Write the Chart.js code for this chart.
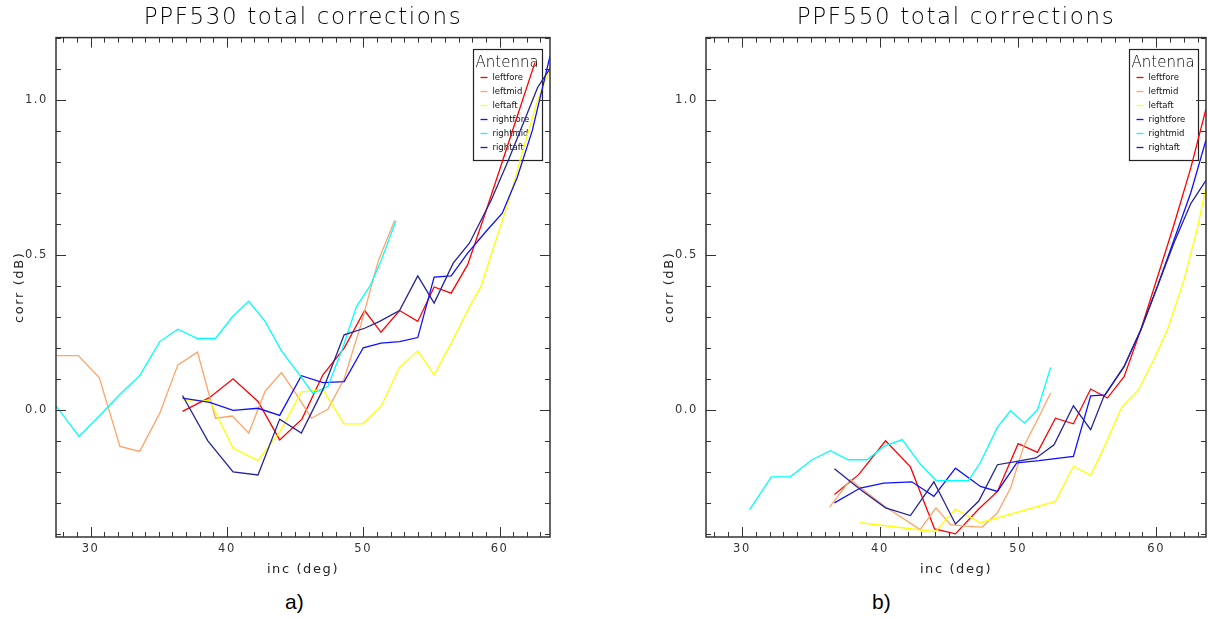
<!DOCTYPE html>
<html>
<head>
<meta charset="utf-8">
<script src="https://cdn.jsdelivr.net/npm/chart.js@4"></script>
<style>
  body { margin: 0; background: #fff; }
  #wrap { position: relative; width: 1208px; height: 621px; overflow: hidden; }
  canvas { position: absolute; top: 0; }
  #c530 { left: 0; }
  #c550 { left: 650px; }
  .tag { position: absolute; top: 590px; font: 21px "Liberation Sans", Arial, sans-serif; color: #000; }
</style>
</head>
<body>
<div id="wrap">
  <canvas id="c530" width="600" height="577"></canvas>
  <canvas id="c550" width="558" height="577"></canvas>
  <div class="tag" style="left:285px">a)</div>
  <div class="tag" style="left:872px">b)</div>
</div>
<script>
// antennas, in legend order
const antennas = ['leftfore', 'leftmid', 'leftaft', 'rightfore', 'rightmid', 'rightaft'];
const colours = ['#ff0000', '#ffa466', '#ffff00', '#1010ff', '#00ffff', '#24249a'];

const incTicks = [30, 40, 50, 60];
const corrTicks = [0, 0.5, 1.0];

// PPF530
const inc530LeftFore  = [36.74, 38.74, 40.45, 42.28, 43.87, 45.5, 47.04, 48.6, 50.1, 51.3, 52.66, 54.0, 55.2, 56.45, 57.66, 59.0, 60.2, 61.4, 62.6];
const corr530LeftFore = [-0.005, 0.04, 0.10, 0.027, -0.097, -0.03, 0.113, 0.199, 0.32, 0.25, 0.32, 0.285, 0.396, 0.376, 0.468, 0.64, 0.80, 0.96, 1.12];
const inc530LeftMid   = [27.46, 29.1, 30.63, 32.15, 33.6, 35.07, 36.4, 37.84, 39.16, 40.4, 41.6, 42.8, 44.0, 45.1, 46.2, 47.4, 48.6, 49.8, 51.1, 52.3];
const corr530LeftMid  = [0.175, 0.175, 0.104, -0.118, -0.134, -0.011, 0.145, 0.186, -0.027, -0.02, -0.075, 0.06, 0.12, 0.05, -0.027, 0.002, 0.10, 0.27, 0.48, 0.61];
const inc530LeftAft   = [36.74, 38.74, 40.45, 42.28, 43.87, 45.46, 47.04, 48.58, 49.97, 51.3, 52.66, 54.0, 55.2, 56.45, 57.8, 58.64, 59.5, 60.7, 61.8, 62.8, 63.7];
const corr530LeftAft  = [0.032, 0.03, -0.124, -0.163, -0.072, 0.058, 0.065, -0.045, -0.045, 0.011, 0.137, 0.19, 0.113, 0.215, 0.333, 0.398, 0.516, 0.677, 0.85, 1.0, 1.1];
const inc530RightFore  = [36.74, 38.74, 40.45, 42.28, 43.87, 45.46, 47.04, 48.6, 50.0, 51.3, 52.66, 54.0, 55.2, 56.45, 57.66, 59.0, 60.2, 61.3, 62.4, 63.7];
const corr530RightFore = [0.038, 0.024, -0.002, 0.005, -0.018, 0.11, 0.088, 0.091, 0.20, 0.215, 0.22, 0.233, 0.428, 0.432, 0.505, 0.575, 0.634, 0.75, 0.90, 1.14];
const inc530RightMid   = [27.46, 29.15, 30.63, 32.15, 33.6, 35.07, 36.4, 37.84, 39.16, 40.4, 41.6, 42.8, 44.0, 45.2, 46.3, 47.4, 48.5, 49.5, 50.5, 51.3, 52.4];
const corr530RightMid  = [0.013, -0.086, -0.02, 0.05, 0.11, 0.22, 0.26, 0.23, 0.23, 0.30, 0.35, 0.285, 0.19, 0.12, 0.054, 0.075, 0.20, 0.333, 0.40, 0.48, 0.61];
const inc530RightAft   = [36.74, 38.6, 40.45, 42.28, 43.87, 45.46, 47.04, 48.6, 50.1, 51.2, 52.66, 54.0, 55.2, 56.6, 57.8, 59.4, 60.6, 61.8, 62.8, 63.7];
const corr530RightAft  = [0.046, -0.10, -0.20, -0.21, -0.03, -0.075, 0.065, 0.242, 0.263, 0.285, 0.32, 0.432, 0.344, 0.473, 0.538, 0.677, 0.80, 0.93, 1.04, 1.10];

// PPF550
const inc550LeftFore  = [36.7, 38.45, 40.4, 42.2, 43.95, 45.46, 47.15, 48.5, 50.0, 51.4, 52.7, 54.0, 55.25, 56.46, 57.67, 58.87, 60.1, 61.3, 62.5, 63.6];
const corr550LeftFore = [-0.273, -0.209, -0.10, -0.184, -0.384, -0.40, -0.32, -0.263, -0.109, -0.137, -0.027, -0.045, 0.067, 0.038, 0.107, 0.257, 0.43, 0.60, 0.78, 0.97];
const inc550LeftMid   = [36.35, 37.85, 40.3, 42.9, 44.05, 45.1, 46.2, 47.4, 48.5, 49.45, 50.4, 51.4, 52.35];
const corr550LeftMid  = [-0.314, -0.225, -0.31, -0.386, -0.316, -0.37, -0.375, -0.378, -0.332, -0.252, -0.118, -0.032, 0.054];
const inc550LeftAft   = [38.57, 44.0, 45.46, 47.27, 52.7, 54.0, 55.25, 56.3, 57.5, 58.7, 59.8, 60.8, 62.0, 63.0, 63.6];
const corr550LeftAft  = [-0.364, -0.393, -0.32, -0.364, -0.295, -0.182, -0.211, -0.113, 0.009, 0.064, 0.16, 0.257, 0.418, 0.59, 0.72];
const inc550RightFore  = [36.7, 38.57, 40.27, 42.3, 43.9, 45.46, 47.27, 48.5, 49.9, 51.5, 54.0, 55.25, 56.3, 57.67, 58.9, 60.1, 61.3, 62.5, 63.6];
const corr550RightFore = [-0.30, -0.252, -0.236, -0.232, -0.279, -0.188, -0.247, -0.263, -0.171, -0.164, -0.15, 0.045, 0.048, 0.139, 0.26, 0.40, 0.55, 0.70, 0.87];
const inc550RightMid   = [30.56, 32.13, 33.5, 35.08, 36.4, 37.7, 39.07, 40.27, 41.6, 42.9, 44.05, 45.1, 46.4, 47.27, 48.5, 49.45, 50.46, 51.4, 52.35];
const corr550RightMid  = [-0.322, -0.216, -0.216, -0.161, -0.132, -0.161, -0.161, -0.118, -0.096, -0.174, -0.228, -0.228, -0.228, -0.169, -0.056, -0.003, -0.043, 0.0, 0.137];
const inc550RightAft   = [36.7, 38.57, 40.4, 42.2, 43.9, 45.46, 47.15, 48.5, 49.9, 51.3, 52.6, 54.0, 55.25, 56.2, 57.67, 58.9, 60.1, 61.3, 62.5, 63.6];
const corr550RightAft  = [-0.19, -0.257, -0.316, -0.341, -0.232, -0.368, -0.294, -0.177, -0.166, -0.155, -0.113, 0.013, -0.064, 0.043, 0.14, 0.26, 0.40, 0.54, 0.665, 0.74];

const hershey = '"DejaVu Sans", sans-serif';

// the plot fonts are wide vector glyphs, so open the text up a little
const wideText = {
  id: 'wideText',
  beforeDraw(chart) { chart.ctx.letterSpacing = '1.6px'; },
  afterDraw(chart) { chart.ctx.letterSpacing = '0px'; }
};

// box with tick marks on all four sides, ticks pointing inward
const frame = {
  id: 'frame',
  afterDatasetsDraw(chart) {
    const { ctx, chartArea: a, scales: { x, y } } = chart;
    ctx.save();
    ctx.strokeStyle = '#333';
    ctx.lineWidth = 1.5;
    ctx.strokeRect(a.left, a.top, a.right - a.left, a.bottom - a.top);
    ctx.lineWidth = 1;
    ctx.beginPath();
    for (let v = Math.ceil(x.min); v <= x.max; v++) {
      const px = Math.round(x.getPixelForValue(v)) + 0.5;
      const len = v % 10 === 0 ? 10 : 5;
      ctx.moveTo(px, a.bottom); ctx.lineTo(px, a.bottom - len);
      ctx.moveTo(px, a.top); ctx.lineTo(px, a.top + len);
    }
    for (let i = Math.ceil(y.min * 10); i <= Math.floor(y.max * 10); i++) {
      const py = Math.round(y.getPixelForValue(i / 10)) + 0.5;
      const len = i % 5 === 0 ? 10 : 5;
      ctx.moveTo(a.left, py); ctx.lineTo(a.left + len, py);
      ctx.moveTo(a.right, py); ctx.lineTo(a.right - len, py);
    }
    ctx.stroke();
    ctx.restore();
  }
};

// "Antenna" key in the top right corner, drawn under the lines
const antennaKey = {
  id: 'antennaKey',
  beforeDatasetsDraw(chart) {
    const { ctx, chartArea: a } = chart;
    const w = 69, h = 111;
    const bx = Math.round(a.right - 77) + 0.5, by = Math.round(a.top + 11) + 0.5;
    ctx.save();
    ctx.letterSpacing = '0px';
    ctx.fillStyle = '#fff';
    ctx.fillRect(bx, by, w, h);
    ctx.strokeStyle = '#222';
    ctx.lineWidth = 1.2;
    ctx.strokeRect(bx, by, w, h);
    ctx.fillStyle = '#000';
    ctx.textBaseline = 'middle';
    ctx.font = '200 15px ' + hershey;
    ctx.fillText('Antenna', bx + 2, by + 14);
    ctx.font = '8.5px ' + hershey;
    chart.data.datasets.forEach((ds, i) => {
      const yy = by + 28 + i * 14;
      ctx.strokeStyle = ds.borderColor;
      ctx.lineWidth = 1.3;
      ctx.beginPath();
      ctx.moveTo(bx + 7, yy); ctx.lineTo(bx + 14, yy);
      ctx.stroke();
      ctx.fillStyle = '#111';
      ctx.fillText(ds.label, bx + 19, yy);
    });
    ctx.restore();
  }
};

function series(inc, corr) {
  return inc.map((v, i) => ({ x: v, y: corr[i] }));
}

function makeChart(id, title, incs, corrs, xMin, xMax, padRight) {
  const datasets = antennas.map((name, i) => ({
    label: name,
    data: series(incs[i], corrs[i]),
    borderColor: colours[i],
    borderWidth: 1.3,
    pointRadius: 0,
    tension: 0,
    fill: false,
    order: antennas.length - i
  }));
  return new Chart(document.getElementById(id), {
    type: 'line',
    data: { datasets },
    plugins: [wideText, antennaKey, frame],
    options: {
      responsive: false,
      animation: false,
      layout: { padding: { left: 0, right: padRight, top: 0, bottom: 0 } },
      plugins: {
        legend: { display: false },
        tooltip: { enabled: false },
        title: {
          display: true,
          text: title,
          fullSize: false,
          color: '#000',
          font: { family: hershey, size: 23, weight: '200' },
          padding: { top: 4, bottom: 6 }
        }
      },
      scales: {
        x: {
          type: 'linear',
          min: xMin,
          max: xMax,
          afterBuildTicks: s => { s.ticks = incTicks.map(v => ({ value: v })); },
          afterFit: s => { s.height = 40; },
          grid: { display: false, drawTicks: false },
          border: { display: false },
          ticks: { color: '#333', padding: 5, font: { family: hershey, size: 11.5 }, maxRotation: 0, autoSkip: false, callback: v => String(v) },
          title: { display: true, text: 'inc (deg)', color: '#222', font: { family: hershey, size: 13 }, padding: { top: 9, bottom: 0 } }
        },
        y: {
          type: 'linear',
          min: -0.41,
          max: 1.2,
          afterBuildTicks: s => { s.ticks = corrTicks.map(v => ({ value: v })); },
          afterFit: s => { s.width = 56; },
          grid: { display: false, drawTicks: false },
          border: { display: false },
          ticks: { color: '#333', padding: 8, font: { family: hershey, size: 11.5 }, callback: v => v.toFixed(1) },
          title: { display: true, text: 'corr (dB)', color: '#222', font: { family: hershey, size: 13 }, padding: { top: 12, bottom: 0 } }
        }
      }
    }
  });
}

makeChart('c530', 'PPF530 total corrections',
  [inc530LeftFore, inc530LeftMid, inc530LeftAft, inc530RightFore, inc530RightMid, inc530RightAft],
  [corr530LeftFore, corr530LeftMid, corr530LeftAft, corr530RightFore, corr530RightMid, corr530RightAft],
  27.46, 63.7, 50);

makeChart('c550', 'PPF550 total corrections',
  [inc550LeftFore, inc550LeftMid, inc550LeftAft, inc550RightFore, inc550RightMid, inc550RightAft],
  [corr550LeftFore, corr550LeftMid, corr550LeftAft, corr550RightFore, corr550RightMid, corr550RightAft],
  27.4, 63.6, 2);
</script>
</body>
</html>
